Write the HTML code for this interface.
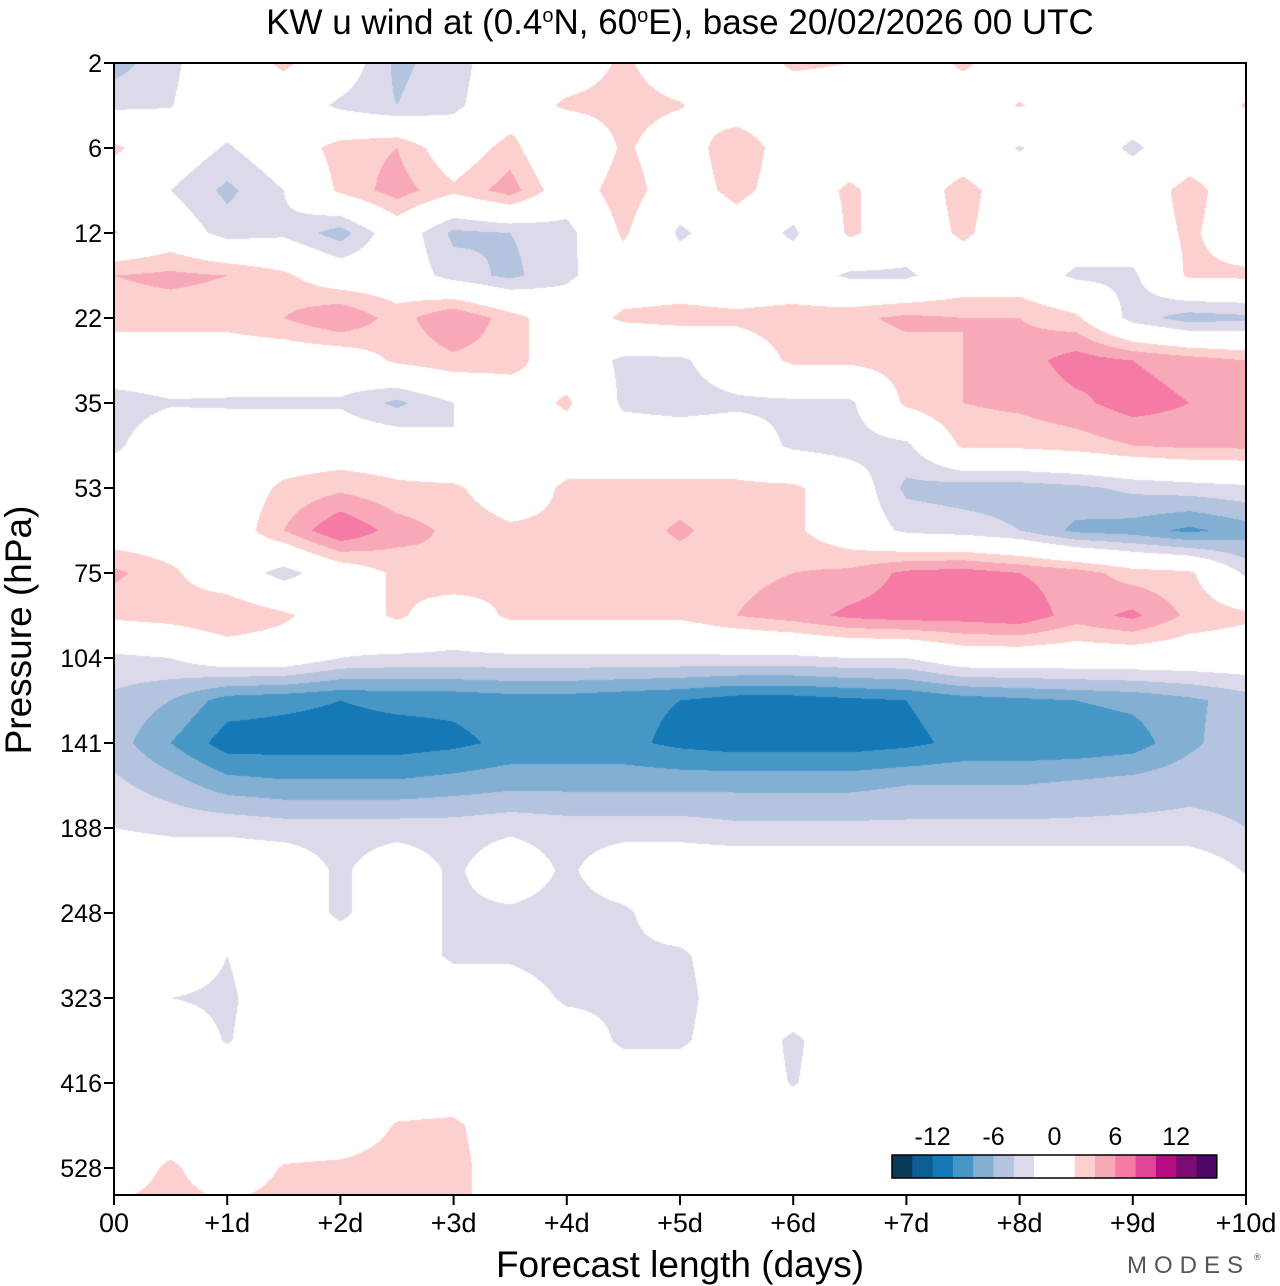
<!DOCTYPE html>
<html><head><meta charset="utf-8"><style>
body{margin:0;background:#fff;width:1280px;height:1286px;overflow:hidden;font-family:"Liberation Sans",sans-serif;}
#wrap{position:relative;width:1280px;height:1286px;}
canvas{position:absolute;left:114px;top:63px;}
svg{position:absolute;left:0;top:0;}
</style></head><body>
<div id="wrap">
<canvas id="cv" width="1132" height="1132"></canvas>
<svg id="sv" width="1280" height="1286"></svg>
</div>
<script>
// Data
const days = [0,0.5,1,1.5,2,2.5,3,3.5,4,4.5,5,5.5,6,6.5,7,7.5,8,8.5,9,9.5,10];
const pressureTicks = [2,6,12,22,35,53,75,104,141,188,248,323,416,528];
const dayLabels = ["00","+1d","+2d","+3d","+4d","+5d","+6d","+7d","+8d","+9d","+10d"];
const levels = [-14,-12,-10,-8,-6,-4,-2,2,4,6,8,10,12,14];
const colorbarLabels = ["-12","-6","0","6","12"];
const colorbarLabelVals = [-12,-6,0,6,12];
const bandColors = ["#083a5a","#0b5d92","#1479b6","#4797c6","#83afd3","#b4c3de","#dcdaea","#ffffff","#fdd0d0","#f8a9b8","#f57aa5","#e14597","#b80d82","#7d0b74","#4f0565"];
// u wind grid: rows = level index (half pressure-tick steps from 2 hPa), cols = days
const uWind = [
[-5,-2.5,0,2.5,0,-4.5,-3,0,0,2.5,0,0,2.5,2,0,2.5,0,0,0,0,0],
[-2.5,-2.1,0,0,-2.5,-4,-2.5,0,2.5,3,2.2,0,0,0,0,0,2.2,0,0,0,2.2],
[2.5,0,-2.3,0,3,4,0,3,-2,2.5,0,4,0,0,0,0,-2.2,0,-2.5,0,0],
[0,-2,-4.5,-2,2.5,5,2.5,5,0,3.5,0,3,0,2.5,0,3,0,0,0,3,0],
[-2.2,0,-3,-2.5,-5,0,-4.5,-4,-3,2.5,-2.5,0,-2.5,2.5,0,2.5,0,0,0,2.5,0],
[4,4.5,4,2.5,0,0,-3,-4.5,-2.5,0,0,0,0,-2.5,-2.5,0,0,-2.5,-2.5,2.5,2.5],
[3,3,3,4,6,3,6,3,0,2.5,3,2.5,3,3.5,4.5,4,4,2.5,-3,-5,-4.5],
[0,0,0,0,0,2.5,3.5,3,0,-2.5,-2.5,0,2.5,2.5,3,4,5,7,6,5,4],
[-3,-2.2,-2.3,-2.3,-2.3,-4.5,-2,0,2.5,-2.5,-3,-2.5,-2.5,-2.5,2.5,4,4.5,5.5,7,6,5],
[-2.5,0,0,0,0,0,-2,0,0,0,0,0,-2.5,-3,-2.5,2.5,2.5,3,4,4.5,4.5],
[0,-2,0,2.5,3.5,2.5,2.5,0,2.5,2.5,2.5,2.5,2.5,0,-4.5,-5,-5,-4.5,-3.5,-3,-2.5],
[0,0,0,4,8,5,3.5,2.5,2.5,2.5,4.5,2.5,2.5,0,-2.5,-3,-4,-6.5,-7,-8.5,-7],
[4.5,2.5,0,-3,0,2.5,4,2.5,2.5,2.5,2.5,3.5,4,4.5,6.5,7,6,5,3,2.5,-2.5],
[2.5,3,4,2.5,0,2.5,0,2.5,2.5,2.5,2.5,4,5,6.5,7,7,7.5,5,6.5,3.5,2.5],
[-2.5,-2,0,0,-2,-2.5,-2.5,-2.5,-2.5,-2.5,-2.5,-2.5,-2.5,-2,-2,0,0,0,0,0,0],
[-4.5,-6,-9,-9.5,-10,-9.5,-9.5,-9,-9,-9.5,-10,-11,-11,-10.5,-10,-9,-8.5,-8,-7.5,-6.5,-5],
[-5,-8,-11,-11,-11,-11,-10.5,-9.5,-9.5,-9.5,-10.5,-11,-11,-11,-10.5,-9.5,-9.5,-9.5,-9,-6.5,-4.5],
[-3.5,-5,-7,-7.5,-7.5,-7.5,-7,-6.5,-6.5,-6.5,-6.5,-6.5,-6.5,-6.5,-6,-6,-6,-5.5,-5,-4.5,-4.5],
[-2,-2.5,-2.5,-3,-3,-3,-3,-2.5,-3,-3,-3,-3.5,-3.5,-3.5,-3.5,-3.5,-3.5,-3.5,-3.5,-3.5,-4],
[0,0,0,0,-2.5,0,-2.5,0,-2.5,0,0,0,0,0,0,0,0,0,0,0,-2.2],
[0,0,0,0,-2.5,0,-2.5,-2.5,-3,-2.5,0,0,0,0,0,0,0,0,0,0,0],
[0,0,-2,0,0,0,-2.5,-2.5,-3.5,-2.5,-2.5,0,0,0,0,0,0,0,0,0,0],
[0,-2,-2.5,0,0,0,0,0,-2.5,-2.5,-3,0,0,0,0,0,0,0,0,0,0],
[0,0,-2.2,0,0,0,0,0,0,-2.5,-2.5,0,-2.5,0,0,0,0,0,0,0,0],
[0,0,0,0,0,0,0,0,0,0,0,0,-2.2,0,0,0,0,0,0,0,0],
[0,0,0,0,0,2.2,2.5,0,0,0,0,0,0,0,0,0,0,0,0,0,0],
[0,2.5,0,2.2,2.5,3,3,0,0,0,0,0,0,0,0,0,0,0,0,0,0],
[2.5,3,2.5,3,3,3,3,0,0,2.5,2.5,2.5,0,0,0,0,0,0,0,0,0]
];
// axes
const X0=114,X1=1246,Y0=63,Y1=1195,ROWSTEP=42.5;
const xs=d=>X0+(X1-X0)*d/10;
const ysRow=i=>Y0+i*ROWSTEP;
function bandOf(v){let k=0;while(k<levels.length&&v>=levels[k])k++;return k;}
function hex(c){return [parseInt(c.substr(1,2),16),parseInt(c.substr(3,2),16),parseInt(c.substr(5,2),16)];}
const rgb=bandColors.map(hex);
// draw contour fill
const cv=document.getElementById('cv'),ctx=cv.getContext('2d');
const W=cv.width,H=cv.height,img=ctx.createImageData(W,H);
const nR=uWind.length,nC=days.length;
for(let py=0;py<H;py++){
  let fr=(py+0.5)/ROWSTEP; if(fr>nR-1)fr=nR-1;
  let r0=Math.floor(fr);if(r0>=nR-1)r0=nR-2;const tr=fr-r0;
  for(let px=0;px<W;px++){
    const d=(px+0.5)/W*10;
    let c0=0;while(c0<nC-2&&days[c0+1]<=d)c0++;
    const tc=(d-days[c0])/(days[c0+1]-days[c0]);
    const v=(uWind[r0][c0]*(1-tc)+uWind[r0][c0+1]*tc)*(1-tr)+(uWind[r0+1][c0]*(1-tc)+uWind[r0+1][c0+1]*tc)*tr;
    const c=rgb[bandOf(v)],o=(py*W+px)*4;
    img.data[o]=c[0];img.data[o+1]=c[1];img.data[o+2]=c[2];img.data[o+3]=255;
  }
}
ctx.putImageData(img,0,0);
// svg
const sv=document.getElementById('sv'),NS='http://www.w3.org/2000/svg';
function mk(tag,attrs,txt){const e=document.createElementNS(NS,tag);for(const k in attrs)e.setAttribute(k,attrs[k]);if(txt!==undefined)e.textContent=txt;sv.appendChild(e);return e;}
let e;
e=mk('text',{x:680,y:34,'text-anchor':'middle','font-size':35});


e.innerHTML='KW u wind at (0.4<tspan dy="-12" font-size="20">o</tspan><tspan dy="12">N, 60</tspan><tspan dy="-12" font-size="20">o</tspan><tspan dy="12">E),  base 20/02/2026  00 UTC</tspan>';
e.setAttribute('xml:space','preserve');
e=mk('rect',{x:X0,y:Y0,width:X1-X0,height:Y1-Y0,fill:'none',stroke:'#000','stroke-width':2});


pressureTicks.forEach((p,i)=>{
  const y=ysRow(i*2);
  e=mk('line',{x1:X0-10,x2:X0,y1:y,y2:y,stroke:'#000','stroke-width':2});
  
  
  e=mk('text',{x:X0-12,y:y+9,'text-anchor':'end','font-size':25},String(p));
  
  
});
dayLabels.forEach((l,i)=>{
  const x=xs(i);
  e=mk('line',{x1:x,x2:x,y1:Y1,y2:Y1+10,stroke:'#000','stroke-width':2});
  
  
  e=mk('text',{x:x,y:1232,'text-anchor':'middle','font-size':27},l);
  
  
});
e=mk('text',{x:680,y:1277,'text-anchor':'middle','font-size':37},'Forecast length (days)');


e=mk('text',{x:0,y:0,'text-anchor':'middle','font-size':37,transform:'translate(31,630) rotate(-90)'},'Pressure (hPa)');


// colorbar
const CB0=892,CBW=20.3,CBY=1155,CBH=23;
let cx=CB0;
bandColors.forEach((c,i)=>{
  const w=(i===7)?CBW*2:CBW;
  e=mk('rect',{x:cx,y:CBY,width:w+0.5,height:CBH,fill:c});
  
  
  cx+=w;
});
e=mk('rect',{x:CB0,y:CBY,width:cx-CB0,height:CBH,fill:'none',stroke:'#000','stroke-width':1.5});


const cbx=v=>CB0+CBW*7+CBW+v/2*CBW;
colorbarLabels.forEach((l,i)=>{
  e=mk('text',{x:cbx(colorbarLabelVals[i]),y:1145,'text-anchor':'middle','font-size':25},l);
  
  
});
e=mk('text',{x:1250,y:1273,'text-anchor':'end','font-size':24,fill:'#555','letter-spacing':'7'},'MODES');


e=mk('text',{x:1254,y:1260,'font-size':9,fill:'#555'},'\u00AE');


</script>
</body></html>
